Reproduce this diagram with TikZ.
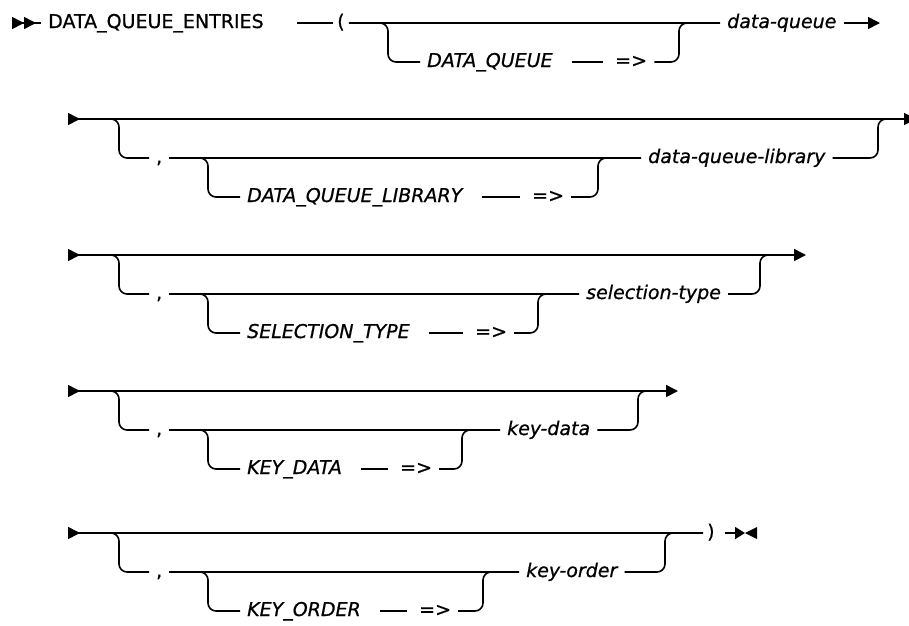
\documentclass[tikz,border=0pt]{standalone}
\usepackage{fontspec}
\setmainfont{DejaVu Sans}[FakeBold=0.7]
\usepackage{tikz}
\usetikzlibrary{arrows.meta}
\newcommand{\railfont}{\fontsize{19pt}{22pt}\selectfont}
\tikzset{
    railin/.tip={Triangle[reversed, length=12pt, width=12pt]},
    railout/.tip={Triangle[length=12pt, width=12pt]},
}

\begin{document}
\begin{tikzpicture}[
    x=1pt, y=-1pt,
    rail/.style={line width=1.6pt, rounded corners=8pt},
    kwlink/.style={rail, shorten <=12pt, shorten >=5pt},
    textnode/.style={anchor=west, inner xsep=7pt, inner ysep=0pt,
                     text height=14pt, text depth=4pt, font=\railfont},
    titlenode/.style={textnode},
    keynode/.style={textnode, font=\railfont\itshape},
    varnode/.style={textnode, font=\railfont\itshape},
    symnode/.style={textnode},
    parnode/.style={textnode, inner xsep=4pt},
]
    \useasboundingbox (0,0) rectangle (909,625);

    % row 1
    \coordinate (s1) at (12,23);
    \node[titlenode] (t1) at (41,23) {DATA\_QUEUE\_ENTRIES};
    \node[parnode] (p1) at (333,23) {(};
    \coordinate (b1l) at (388,23);
    \node[keynode] (k1) at (420,62) {DATA\_QUEUE};
    \node[symnode] (q1) at (608,62) {=>};
    \coordinate (b1r) at (679,23);
    \node[varnode] (v1) at (720,23) {data-queue};
    \coordinate (e1) at (880,23);

    \draw[rail, {railin[] railin[]}-] (s1) -- (t1);
    \draw[rail, shorten <=26pt] (t1) -- (p1);
    \draw[rail] (p1) -- (v1);
    \draw[rail, -railout] (v1) -- (e1);
    \draw[rail] (p1) -- (b1l) |- (k1);
    \draw[kwlink] (k1) -- (q1);
    \draw[rail] (q1) -| (b1r) -- (v1);

    % row 2
    \coordinate (s2) at (68,119);
    \coordinate (b2l) at (119,119);
    \node[symnode] (c2) at (149,158) {,};
    \coordinate (b2il) at (208,158);
    \node[keynode] (k2) at (240,197) {DATA\_QUEUE\_LIBRARY};
    \node[symnode] (q2) at (525,197) {=>};
    \coordinate (b2ir) at (598,158);
    \node[varnode] (v2) at (641,158) {data-queue-library};
    \coordinate (b2r) at (878,119);
    \coordinate (j2) at (894,119);
    \coordinate (e2) at (916,119);

    \draw[rail, railin-railout] (s2) -- (e2);
    \draw[rail] (s2) -- (b2l) |- (c2);
    \draw[rail] (c2) -- (v2);
    \draw[rail] (c2) -- (b2il) |- (k2);
    \draw[kwlink] (k2) -- (q2);
    \draw[rail] (q2) -| (b2ir) -- (v2);
    \draw[rail] (v2) -| (b2r) -- (j2);

    % row 3
    \coordinate (s3) at (68,255);
    \coordinate (b3l) at (119,255);
    \node[symnode] (c3) at (149,294) {,};
    \coordinate (b3il) at (208,294);
    \node[keynode] (k3) at (240,333) {SELECTION\_TYPE};
    \node[symnode] (q3) at (468,333) {=>};
    \coordinate (b3ir) at (538,294);
    \node[varnode] (v3) at (579,294) {selection-type};
    \coordinate (b3r) at (760,255);
    \coordinate (j3) at (776,255);
    \coordinate (e3) at (806,255);

    \draw[rail, railin-railout] (s3) -- (e3);
    \draw[rail] (s3) -- (b3l) |- (c3);
    \draw[rail] (c3) -- (v3);
    \draw[rail] (c3) -- (b3il) |- (k3);
    \draw[kwlink] (k3) -- (q3);
    \draw[rail] (q3) -| (b3ir) -- (v3);
    \draw[rail] (v3) -| (b3r) -- (j3);

    % row 4
    \coordinate (s4) at (68,391);
    \coordinate (b4l) at (119,391);
    \node[symnode] (c4) at (149,430) {,};
    \coordinate (b4il) at (208,430);
    \node[keynode] (k4) at (240,469) {KEY\_DATA};
    \node[symnode] (q4) at (393,469) {=>};
    \coordinate (b4ir) at (462,430);
    \node[varnode] (v4) at (500,430) {key-data};
    \coordinate (b4r) at (638,391);
    \coordinate (j4) at (654,391);
    \coordinate (e4) at (678,391);

    \draw[rail, railin-railout] (s4) -- (e4);
    \draw[rail] (s4) -- (b4l) |- (c4);
    \draw[rail] (c4) -- (v4);
    \draw[rail] (c4) -- (b4il) |- (k4);
    \draw[kwlink] (k4) -- (q4);
    \draw[rail] (q4) -| (b4ir) -- (v4);
    \draw[rail] (v4) -| (b4r) -- (j4);

    % row 5
    \coordinate (s5) at (68,533);
    \coordinate (b5l) at (119,533);
    \node[symnode] (c5) at (149,572) {,};
    \coordinate (b5il) at (208,572);
    \node[keynode] (k5) at (240,611) {KEY\_ORDER};
    \node[symnode] (q5) at (412,611) {=>};
    \coordinate (b5ir) at (483,572);
    \node[varnode] (v5) at (519,572) {key-order};
    \coordinate (b5r) at (665,533);
    \node[parnode] (r5) at (703,533) {)};
    \coordinate (fin) at (745,533);

    \draw[rail, railin-] (s5) -- (r5);
    \draw[rail] (s5) -- (b5l) |- (c5);
    \draw[rail] (c5) -- (v5);
    \draw[rail] (c5) -- (b5il) |- (k5);
    \draw[kwlink] (k5) -- (q5);
    \draw[rail] (q5) -| (b5ir) -- (v5);
    \draw[rail] (v5) -| (b5r) -- (r5);
    \draw[rail, shorten <=6pt, -{Triangle[length=10pt, width=12pt]}] (r5) -- (fin);
    \fill (fin) -- ++(12,-6) -- ++(0,12) -- cycle;
\end{tikzpicture}
\end{document}
